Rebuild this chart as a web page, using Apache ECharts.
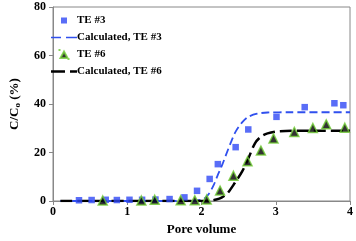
<!DOCTYPE html>
<html><head><meta charset="utf-8">
<script src="https://cdn.jsdelivr.net/npm/echarts@6/dist/echarts.min.js"></script>
<style>html,body{margin:0;padding:0;background:#fff}#c{width:356px;height:241px}</style>
</head><body><div id="c"></div>
<script>
var xTicks = [0, 1, 2, 3, 4];
var yTicks = [0, 20, 40, 60, 80];
var te3 = [[0.35,0.3],[0.52,0.4],[0.71,0.5],[0.86,0.4],[1.03,0.5],[1.2,0.5],[1.38,0.6],[1.57,0.8],[1.77,1.5],[1.94,4.2],[2.11,9.1],[2.22,15.2],[2.46,22.2],[2.63,29.5],[3.01,34.7],[3.39,38.7],[3.79,40.3],[3.91,39.5]];
var calc3 = [[0.1,0],[1.0,0],[1.8,0],[1.95,0.3],[2.03,0.8],[2.1,3],[2.17,7],[2.22,10.8],[2.28,15],[2.33,19],[2.4,24.5],[2.46,28.6],[2.55,32.5],[2.63,34.7],[2.75,36],[2.89,36.5],[3.2,36.6],[4,36.6]];
var te6 = [[0.67,0.2],[1.19,0.2],[1.37,0.5],[1.72,0.3],[1.91,0.3],[2.07,0.6],[2.25,4.3],[2.43,10.4],[2.62,16.4],[2.8,20.8],[2.97,25.8],[3.25,28.5],[3.5,30.1],[3.68,31.6],[3.93,30.2]];
var calc6 = [[0.1,0],[1.0,0],[2.0,0],[2.12,0.2],[2.2,0.6],[2.27,1.4],[2.35,3.2],[2.45,7.5],[2.55,12.3],[2.63,17.5],[2.72,23.8],[2.8,26.5],[2.89,27.9],[3.06,28.8],[3.5,29],[4,29]];
var names = ['TE #3', 'Calculated, TE #3', 'TE #6', 'Calculated, TE #6'];

var font = '"Liberation Serif", "Times New Roman", serif';
var chart = echarts.init(document.getElementById('c'), null, {renderer: 'canvas'});
chart.setOption({
  animation: false,
  textStyle: {fontFamily: font},
  grid: {left: 44, right: 5, top: 7, bottom: 38, show: true, borderColor: '#888', borderWidth: 1},
  legend: {
    orient: 'vertical', left: 46, top: 10, itemWidth: 26, itemHeight: 9, itemGap: 6,
    symbolKeepAspect: true,
    textStyle: {fontFamily: font, fontWeight: 'bold', fontSize: 11, color: '#000', padding: [0,0,0,-5]},
    data: [
      {name: names[0], icon: 'path://M1.5,1.5h6v6h-6z M0,0h0.01v0.01h-0.01z M9,9h0.01v0.01h-0.01z'},
      {name: names[1], icon: 'path://M0,0h10v1.6h-10z M15,0h11v1.6h-11z'},
      {name: names[2], icon: 'path://M4.5,1.5L8,8L1,8z M0,0h0.01v0.01h-0.01z M9,9h0.01v0.01h-0.01z'},
      {name: names[3], icon: 'path://M0,0h14v2.6h-14z M19,0h7v2.6h-7z'}
    ]
  },
  xAxis: {
    type: 'value', min: 0, max: 4, interval: 1,
    name: 'Pore volume', nameLocation: 'middle', nameGap: 22,
    nameTextStyle: {fontFamily: font, fontWeight: 'bold', fontSize: 13, color: '#000'},
    axisLine: {show: true, onZero: false, lineStyle: {color: '#888', width: 1}},
    axisTick: {show: true, inside: false, length: 4, lineStyle: {color: '#888'}},
    axisLabel: {fontFamily: font, fontWeight: 'bold', fontSize: 12, color: '#000', margin: 5,
      formatter: function(v){ return xTicks.indexOf(v) >= 0 ? String(v) : ''; }},
    splitLine: {show: false}
  },
  yAxis: {
    type: 'value', min: 0, max: 80, interval: 20,
    name: '{a|C/C}{s|o}{a| (%)}', nameLocation: 'middle', nameGap: 31, nameRotate: 90,
    nameTextStyle: {rich: {
      a: {fontFamily: font, fontWeight: 'bold', fontSize: 13, color: '#000'},
      s: {fontFamily: font, fontWeight: 'bold', fontSize: 9, color: '#000', verticalAlign: 'bottom', padding: [6,0,0,0]}
    }},
    axisLine: {show: true, lineStyle: {color: '#888', width: 1}},
    axisTick: {show: true, inside: false, length: 4, lineStyle: {color: '#888'}},
    axisLabel: {fontFamily: font, fontWeight: 'bold', fontSize: 12, color: '#000', margin: 7,
      formatter: function(v){ return yTicks.indexOf(v) >= 0 ? String(v) : ''; }},
    splitLine: {show: false}
  },
  series: [
    {name: names[0], type: 'scatter', data: te3, symbol: 'rect', symbolSize: 6.5,
     itemStyle: {color: '#2f48f5'}, z: 3},
    {name: names[1], type: 'line', data: calc3, smooth: 0.3, showSymbol: false, symbol: 'none',
     lineStyle: {color: '#3050ee', width: 1.8, type: [8, 4]}, itemStyle: {color: '#3050ee'}, z: 2},
    {name: names[2], type: 'scatter', data: te6, symbol: 'triangle', symbolSize: 9,
     itemStyle: {color: '#000', borderColor: '#6fcc33', borderWidth: 1.5}, z: 4},
    {name: names[3], type: 'line', data: calc6, smooth: 0.3, showSymbol: false, symbol: 'none',
     lineStyle: {color: '#000', width: 2.5, type: [12, 5]}, itemStyle: {color: '#000'}, z: 2}
  ]
});
</script></body></html>
